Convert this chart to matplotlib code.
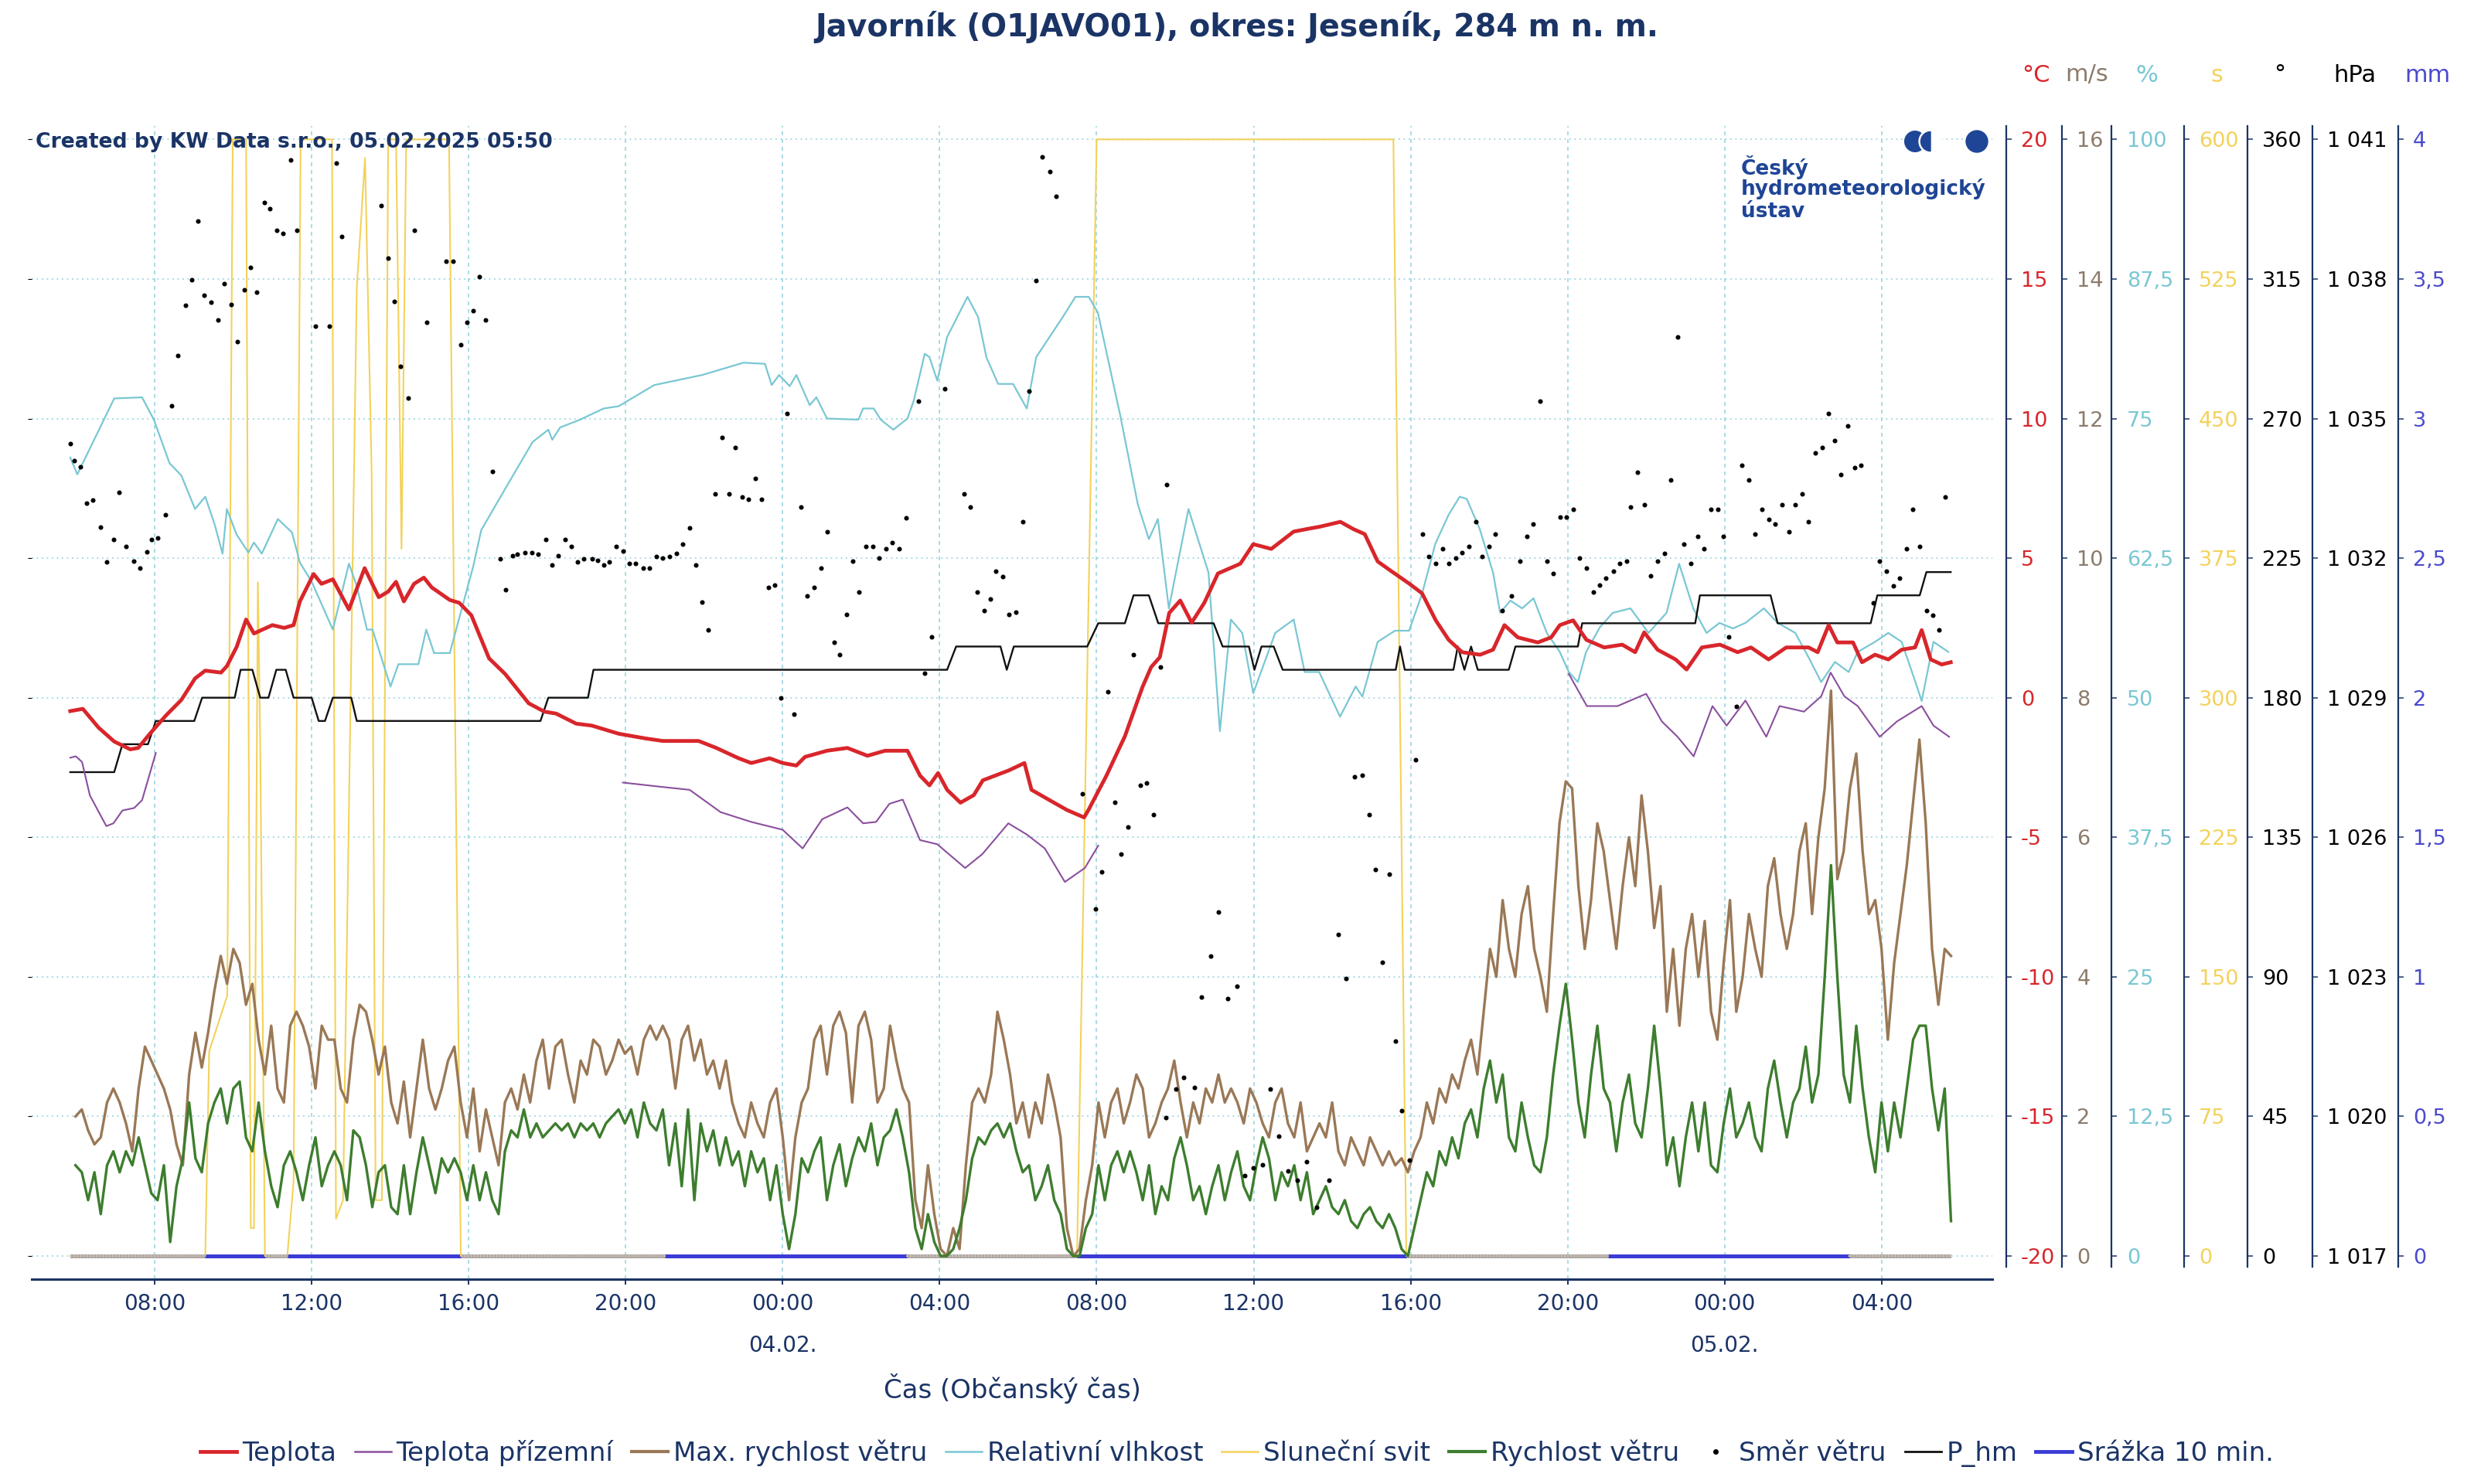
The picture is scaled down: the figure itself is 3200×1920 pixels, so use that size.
import numpy as np
import pandas as pd
import matplotlib
matplotlib.use("Agg")
import matplotlib.pyplot as plt
import matplotlib.dates as mdates
import matplotlib.transforms as mtransforms
from matplotlib.lines import Line2D
from matplotlib.patches import Circle, Wedge

# colours
NAVY = "#1b3466"
GRID = "#9dd5df"
RED = "#d8262b"
PURPLE = "#8a4f9e"
BROWN = "#9a7856"
CYAN = "#79c7d3"
YELLOW = "#f3d25b"
GREEN = "#3d7d2e"
BLUE = "#3b3bd6"
ZERO_GRAY = "#b0a8a2"

BASE = pd.Timestamp("2025-02-03 00:00")

# ---- data (time = hours since 03.02.2025 00:00) ----
temp_hours = [5.85, 6.17, 6.57, 6.97, 7.38, 7.58, 7.88, 8.28, 8.68, 9.03,
              9.29, 9.69, 9.84, 10.09, 10.33, 10.53, 11.0, 11.3, 11.54, 11.7,
              12.05, 12.25, 12.54, 12.95, 13.35, 13.71, 13.95, 14.15, 14.35, 14.61,
              14.86, 15.06, 15.52, 15.76, 16.07, 16.52, 16.93, 17.53, 17.93, 18.23,
              18.74, 19.14, 19.82, 20.51, 20.95, 21.86, 22.31, 22.88, 23.2, 23.67,
              24.0, 24.35, 24.57, 25.13, 25.65, 26.16, 26.61, 27.18, 27.5, 27.74,
              27.96, 28.19, 28.53, 28.87, 29.1, 29.77, 30.16, 30.34, 30.8, 31.24,
              31.68, 31.8, 32.25, 32.72, 33.17, 33.39, 33.61, 33.85, 34.13, 34.42,
              34.74, 35.09, 35.66, 35.99, 36.45, 37.02, 37.35, 37.7, 38.21, 38.54,
              38.83, 39.16, 39.5, 39.96, 40.29, 40.64, 40.97, 41.31, 41.77, 42.1,
              42.39, 42.73, 43.24, 43.58, 43.8, 44.14, 44.48, 44.93, 45.39, 45.72,
              45.95, 46.29, 46.75, 47.03, 47.42, 47.88, 48.33, 48.67, 49.12, 49.57,
              50.14, 50.37, 50.65, 50.87, 51.27, 51.5, 51.83, 52.17, 52.51, 52.85,
              53.02, 53.25, 53.53, 53.76]
temp_c = [-0.48, -0.4, -1.07, -1.57, -1.85, -1.8, -1.29, -0.65, -0.08, 0.69,
          0.97, 0.9, 1.13, 1.82, 2.8, 2.3, 2.6, 2.5, 2.6, 3.45,
          4.43, 4.08, 4.24, 3.16, 4.64, 3.6, 3.8, 4.15, 3.45, 4.08,
          4.3, 3.95, 3.5, 3.4, 2.95, 1.41, 0.85, -0.2, -0.5, -0.57,
          -0.93, -1.0, -1.29, -1.46, -1.55, -1.55, -1.8, -2.17, -2.34, -2.17,
          -2.34, -2.43, -2.12, -1.9, -1.8, -2.08, -1.9, -1.9, -2.79, -3.14,
          -2.7, -3.3, -3.76, -3.49, -2.96, -2.6, -2.34, -3.3, -3.67, -4.02,
          -4.29, -4.0, -2.79, -1.38, 0.39, 1.1, 1.45, 3.04, 3.48, 2.69,
          3.39, 4.45, 4.8, 5.5, 5.33, 5.95, 6.04, 6.13, 6.3, 6.04,
          5.86, 4.88, 4.54, 4.09, 3.74, 2.77, 2.07, 1.63, 1.54, 1.72,
          2.6, 2.16, 1.98, 2.16, 2.6, 2.77, 2.07, 1.8, 1.9, 1.63,
          2.34, 1.72, 1.37, 1.01, 1.8, 1.9, 1.63, 1.8, 1.37, 1.8,
          1.8, 1.63, 2.6, 1.98, 1.98, 1.27, 1.54, 1.37, 1.72, 1.8,
          2.42, 1.37, 1.19, 1.27]

# ground temperature, three separate stretches of data (NaN = gap)
ground_hours = [5.85, 5.99, 6.15, 6.35, 6.77, 6.95, 7.18, 7.48, 7.68, 8.03, 14.0,
                19.93, 20.95, 21.63, 22.42, 23.2, 24.0, 24.51, 25.01, 25.65, 26.05,
                26.38, 26.72, 27.06, 27.5, 27.94, 28.65, 29.09, 29.75, 30.22, 30.68,
                31.19, 31.7, 32.04, 38.0,
                44.03, 44.49, 45.27, 46.0, 46.4, 46.8, 47.21, 47.69, 48.05, 48.53,
                49.06, 49.4, 50.02, 50.46, 50.7, 51.05, 51.39, 51.95, 52.39, 53.02,
                53.32, 53.72]
ground_c = [-2.15, -2.1, -2.3, -3.5, -4.6, -4.5, -4.04, -3.95, -3.67, -1.98, np.nan,
            -3.04, -3.2, -3.3, -4.1, -4.45, -4.73, -5.4, -4.35, -3.93, -4.5,
            -4.45, -3.8, -3.65, -5.1, -5.25, -6.1, -5.6, -4.5, -4.9, -5.4,
            -6.6, -6.1, -5.3, np.nan,
            0.85, -0.3, -0.3, 0.14, -0.85, -1.4, -2.1, -0.3, -1.0, -0.1,
            -1.4, -0.3, -0.5, 0.05, 0.9, 0.05, -0.3, -1.4, -0.85, -0.3,
            -1.0, -1.4]

rh_hours = [5.85, 6.03, 6.97, 7.68, 7.98, 8.38, 8.68, 9.03, 9.29, 9.53,
            9.73, 9.84, 10.09, 10.39, 10.53, 10.73, 11.14, 11.5, 11.7, 12.0,
            12.54, 12.95, 13.15, 13.41, 13.55, 14.01, 14.21, 14.72, 14.92, 15.12,
            15.52, 15.82, 16.12, 16.32, 16.93, 17.63, 18.03, 18.13, 18.33, 18.84,
            19.44, 19.82, 20.73, 21.95, 23.0, 23.55, 23.72, 23.91, 24.18, 24.35,
            24.69, 24.86, 25.13, 25.93, 26.05, 26.32, 26.5, 26.82, 27.18, 27.34,
            27.62, 27.74, 27.94, 28.19, 28.71, 28.98, 29.19, 29.49, 29.87, 30.22,
            30.46, 31.12, 31.46, 31.8, 32.03, 32.6, 33.05, 33.33, 33.56, 33.84,
            34.34, 34.85, 35.14, 35.42, 35.71, 35.99, 36.55, 37.02, 37.3, 37.67,
            38.2, 38.6, 38.77, 39.16, 39.6, 39.96, 40.29, 40.63, 40.97, 41.25,
            41.43, 41.76, 42.1, 42.28, 42.54, 42.84, 43.13, 43.47, 43.8, 44.03,
            44.26, 44.47, 44.82, 45.15, 45.6, 46.06, 46.52, 46.84, 47.2, 47.54,
            47.87, 48.21, 48.53, 49.0, 49.35, 49.8, 50.14, 50.46, 50.81, 51.16,
            51.39, 51.83, 52.17, 52.51, 52.86, 53.02, 53.32, 53.7]
rh_pct = [71.5, 70.0, 76.8, 76.9, 74.9, 71, 69.9, 66.9, 68, 65.5,
          62.9, 66.9, 64.6, 63, 63.9, 62.9, 66, 64.8, 62.1, 60.4,
          56.1, 62, 60, 56.1, 56.1, 51, 53, 53, 56.1, 54,
          54, 57.9, 61.8, 65, 68.7, 72.9, 74, 73.1, 74.2, 74.9,
          75.9, 76.1, 78, 78.9, 80, 79.9, 78, 78.9, 77.9, 78.9,
          76.2, 76.9, 75, 74.9, 75.9, 75.9, 74.9, 74, 75, 76.6,
          80.8, 80.5, 78.4, 82.3, 85.9, 84.1, 80.5, 78.1, 78.1, 75.9,
          80.5, 84, 85.9, 85.9, 84.5, 75.3, 67.3, 64.2, 66, 58,
          66.9, 61.2, 47, 57, 55.8, 50.4, 55.8, 57, 52.3, 52.3,
          48.3, 51, 50.1, 55, 56, 56, 59.3, 63.8, 66.4, 68,
          67.8, 65.1, 61.2, 57.6, 58.7, 58, 58.9, 55.8, 54.1, 52.3,
          51.4, 54.1, 56.3, 57.6, 58, 55.8, 57.6, 62, 58, 55.8,
          56.7, 56.2, 56.7, 58, 56.7, 55.8, 53.6, 51.4, 53.2, 52.3,
          54.1, 55, 55.8, 55, 51.4, 49.7, 55, 54.1]

sun_hours = [5.85, 9.29, 9.39, 9.85, 9.99, 10.33, 10.45, 10.53, 10.63, 10.69,
             10.81, 11.38, 11.54, 11.72, 12.52, 12.62, 12.8, 13.15, 13.36, 13.53,
             13.63, 13.79, 13.95, 14.15, 14.29, 14.41, 15.5, 15.8, 21.0, 24.0,
             27.17, 31.5, 32.0, 39.56, 39.89, 45.03, 48.0, 51.17, 53.76]
sun_s = [0, 0, 110, 140, 600, 600, 15, 15, 362, 275,
         0, 0, 40, 600, 600, 20, 30, 520, 590, 420,
         30, 30, 600, 600, 380, 600, 600, 0, 0, np.nan,
         0, 0, 600, 600, 0, 0, np.nan, 0, 0]

pressure_hours = [5.85, 6.97, 7.18, 7.83, 8.03, 9.01, 9.21, 10.04, 10.19, 10.49,
                  10.69, 10.9, 11.1, 11.34, 11.54, 12.0, 12.18, 12.34, 12.54, 13.01,
                  13.15, 17.83, 18.03, 19.04, 19.18, 28.19, 28.42, 29.55, 29.71, 29.89,
                  31.76, 32.04, 32.72, 32.94, 33.33, 33.57, 34.98, 35.21, 35.88, 36.02,
                  36.2, 36.51, 36.74, 39.62, 39.73, 39.85, 41.09, 41.2, 41.37, 41.54,
                  41.71, 42.5, 42.67, 44.26, 44.37, 47.25, 47.37, 49.17, 49.35, 51.72,
                  51.89, 52.97, 53.14, 53.76]
pressure_hpa = [1027.4, 1027.4, 1028.0, 1028.0, 1028.5, 1028.5, 1029.0, 1029.0, 1029.6, 1029.6,
                1029.0, 1029.0, 1029.6, 1029.6, 1029.0, 1029.0, 1028.5, 1028.5, 1029.0, 1029.0,
                1028.5, 1028.5, 1029.0, 1029.0, 1029.6, 1029.6, 1030.1, 1030.1, 1029.6, 1030.1,
                1030.1, 1030.6, 1030.6, 1031.2, 1031.2, 1030.6, 1030.6, 1030.1, 1030.1, 1029.6,
                1030.1, 1030.1, 1029.6, 1029.6, 1030.1, 1029.6, 1029.6, 1030.1, 1029.6, 1030.1,
                1029.6, 1029.6, 1030.1, 1030.1, 1030.6, 1030.6, 1031.2, 1031.2, 1030.6, 1030.6,
                1031.2, 1031.2, 1031.7, 1031.7]

# wind: evenly spaced samples between these two times
wind_start = "2025-02-03 05:59"
wind_end = "2025-02-05 05:46"
wind_gust = [2.0, 2.1, 1.8, 1.6, 1.7, 2.2, 2.4, 2.2, 1.9, 1.5,
             2.4, 3.0, 2.8, 2.6, 2.4, 2.1, 1.6, 1.3, 2.6, 3.2,
             2.7, 3.2, 3.8, 4.3, 3.9, 4.4, 4.2, 3.6, 3.9, 3.1,
             2.6, 3.3, 2.4, 2.2, 3.3, 3.5, 3.3, 3.0, 2.4, 3.3,
             3.1, 3.1, 2.4, 2.2, 3.1, 3.6, 3.5, 3.1, 2.6, 3.0,
             2.2, 1.9, 2.5, 1.7, 2.4, 3.1, 2.4, 2.1, 2.4, 2.8,
             3.0, 2.2, 1.7, 2.4, 1.5, 2.1, 1.7, 1.3, 2.2, 2.4,
             2.1, 2.6, 2.2, 2.8, 3.1, 2.4, 3.0, 3.1, 2.6, 2.2,
             2.8, 2.6, 3.1, 3.0, 2.6, 2.8, 3.1, 2.9, 3.0, 2.6,
             3.1, 3.3, 3.1, 3.3, 3.1, 2.4, 3.1, 3.3, 2.8, 3.1,
             2.6, 2.8, 2.4, 2.8, 2.2, 1.9, 1.7, 2.2, 1.9, 1.7,
             2.2, 2.4, 1.7, 0.8, 1.7, 2.2, 2.4, 3.1, 3.3, 2.6,
             3.3, 3.5, 3.2, 2.2, 3.3, 3.5, 3.1, 2.2, 2.4, 3.3,
             2.8, 2.4, 2.2, 0.8, 0.4, 1.3, 0.6, 0.1, 0.0, 0.4,
             0.1, 1.3, 2.2, 2.4, 2.2, 2.6, 3.5, 3.1, 2.6, 1.9,
             2.2, 1.7, 2.2, 1.9, 2.6, 2.2, 1.7, 0.4, 0.0, 0.1,
             0.8, 1.3, 2.2, 1.7, 2.2, 2.4, 1.9, 2.2, 2.6, 2.4,
             1.7, 1.9, 2.2, 2.4, 2.8, 2.2, 1.7, 2.2, 1.9, 2.4,
             2.2, 2.6, 2.2, 2.4, 2.2, 1.9, 2.4, 2.2, 1.9, 1.7,
             2.2, 2.4, 1.9, 1.7, 2.2, 1.5, 1.7, 1.9, 1.7, 2.2,
             1.5, 1.3, 1.7, 1.5, 1.3, 1.7, 1.5, 1.3, 1.5, 1.3,
             1.4, 1.2, 1.5, 1.7, 2.2, 1.9, 2.4, 2.2, 2.6, 2.4,
             2.8, 3.1, 2.6, 3.5, 4.4, 4.0, 5.1, 4.4, 4.0, 4.9,
             5.3, 4.4, 4.0, 3.5, 4.9, 6.2, 6.8, 6.7, 5.3, 4.4,
             5.1, 6.2, 5.8, 5.1, 4.4, 5.3, 6.0, 5.3, 6.6, 5.8,
             4.7, 5.3, 3.5, 4.4, 3.3, 4.4, 4.9, 4.0, 4.8, 3.5,
             3.1, 4.2, 5.1, 3.5, 4.0, 4.9, 4.4, 4.0, 5.3, 5.7,
             4.9, 4.4, 4.9, 5.8, 6.2, 4.9, 6.0, 6.7, 8.1, 5.4,
             5.8, 6.7, 7.2, 5.8, 4.9, 5.1, 4.4, 3.1, 4.2, 4.9,
             5.6, 6.5, 7.4, 6.2, 4.4, 3.6, 4.4, 4.3]
wind_speed = [1.3, 1.2, 0.8, 1.2, 0.6, 1.3, 1.5, 1.2, 1.5, 1.3,
              1.7, 1.3, 0.9, 0.8, 1.3, 0.2, 1.0, 1.4, 2.2, 1.4,
              1.2, 1.9, 2.2, 2.4, 1.9, 2.4, 2.5, 1.7, 1.5, 2.2,
              1.5, 1.0, 0.7, 1.3, 1.5, 1.2, 0.8, 1.3, 1.7, 1.0,
              1.3, 1.5, 1.3, 0.8, 1.8, 1.7, 1.3, 0.7, 1.2, 1.3,
              0.7, 0.6, 1.3, 0.6, 1.2, 1.7, 1.3, 0.9, 1.4, 1.2,
              1.4, 1.2, 0.8, 1.3, 0.8, 1.2, 0.8, 0.6, 1.5, 1.8,
              1.7, 2.1, 1.7, 1.9, 1.7, 1.8, 1.9, 1.8, 1.9, 1.7,
              1.9, 1.8, 1.9, 1.7, 1.9, 2.0, 2.1, 1.9, 2.1, 1.7,
              2.2, 1.9, 1.8, 2.1, 1.3, 1.9, 1.0, 2.1, 0.8, 1.9,
              1.5, 1.8, 1.3, 1.7, 1.3, 1.5, 1.0, 1.5, 1.2, 1.4,
              0.8, 1.3, 0.6, 0.1, 0.6, 1.4, 1.2, 1.5, 1.7, 0.8,
              1.3, 1.6, 1.0, 1.4, 1.7, 1.5, 1.9, 1.3, 1.7, 1.8,
              2.1, 1.7, 1.2, 0.4, 0.1, 0.6, 0.2, 0.0, 0.0, 0.1,
              0.4, 0.8, 1.4, 1.7, 1.6, 1.8, 1.9, 1.7, 1.9, 1.5,
              1.2, 1.3, 0.8, 1.0, 1.3, 0.8, 0.6, 0.1, 0.0, 0.0,
              0.4, 0.6, 1.3, 0.8, 1.3, 1.5, 1.2, 1.5, 1.2, 0.8,
              1.3, 0.6, 1.0, 0.8, 1.4, 1.7, 1.3, 0.8, 1.0, 0.6,
              1.0, 1.3, 0.8, 1.2, 1.5, 1.0, 0.8, 1.3, 1.7, 1.4,
              0.8, 1.2, 1.0, 1.3, 0.8, 1.2, 0.6, 0.8, 1.0, 0.7,
              0.6, 0.8, 0.5, 0.4, 0.6, 0.7, 0.5, 0.4, 0.6, 0.4,
              0.1, 0.0, 0.4, 0.8, 1.2, 1.0, 1.5, 1.3, 1.7, 1.4,
              1.9, 2.1, 1.7, 2.4, 2.8, 2.2, 2.6, 1.7, 1.5, 2.2,
              1.7, 1.3, 1.2, 1.7, 2.6, 3.3, 3.9, 3.1, 2.2, 1.7,
              2.6, 3.3, 2.4, 2.2, 1.5, 2.2, 2.6, 1.9, 1.7, 2.4,
              3.3, 2.4, 1.3, 1.7, 1.0, 1.7, 2.2, 1.5, 2.2, 1.3,
              1.2, 1.9, 2.4, 1.7, 1.9, 2.2, 1.7, 1.5, 2.4, 2.8,
              2.2, 1.7, 2.2, 2.4, 3.0, 2.2, 2.6, 4.0, 5.6, 4.0,
              2.6, 2.2, 3.3, 2.4, 1.7, 1.2, 2.2, 1.5, 2.2, 1.7,
              2.4, 3.1, 3.3, 3.3, 2.4, 1.8, 2.4, 0.5]

dir_hours = [5.85, 5.95, 6.11, 6.27, 6.43, 6.62, 6.77, 6.95, 7.1, 7.28,
             7.46, 7.63, 7.8, 7.92, 8.08, 8.28, 8.44, 8.6, 8.79, 8.94,
             9.11, 9.27, 9.44, 9.62, 9.78, 9.95, 10.11, 10.28, 10.44, 10.6,
             10.79, 10.94, 11.11, 11.27, 11.46, 11.62, 12.1, 12.45, 12.62, 12.77,
             13.78, 13.94, 14.11, 14.27, 14.46, 14.61, 14.94, 15.42, 15.6, 15.8,
             15.95, 16.11, 16.28, 16.43, 16.6, 16.81, 16.95, 17.11, 17.23, 17.43,
             17.61, 17.77, 17.96, 18.13, 18.28, 18.45, 18.62, 18.78, 18.94, 19.14,
             19.29, 19.44, 19.58, 19.76, 19.93, 20.1, 20.26, 20.44, 20.61, 20.79,
             20.95, 21.12, 21.29, 21.46, 21.63, 21.79, 21.95, 22.11, 22.29, 22.46,
             22.63, 22.79, 22.96, 23.12, 23.3, 23.46, 23.63, 23.8, 23.96, 24.12,
             24.29, 24.46, 24.63, 24.8, 24.97, 25.13, 25.31, 25.45, 25.62, 25.79,
             25.95, 26.12, 26.3, 26.46, 26.63, 26.8, 26.97, 27.14, 27.46, 27.62,
             27.8, 28.13, 28.62, 28.79, 28.96, 29.13, 29.3, 29.43, 29.6, 29.77,
             29.95, 30.12, 30.28, 30.45, 30.62, 30.8, 30.96, 31.64, 31.98, 32.12,
             32.29, 32.46, 32.62, 32.8, 32.94, 33.11, 33.28, 33.45, 33.62, 33.77,
             33.79, 34.02, 34.22, 34.5, 34.66, 34.9, 35.1, 35.34, 35.58, 35.78,
             35.99, 36.23, 36.43, 36.63, 36.87, 37.11, 37.35, 37.6, 37.92, 38.16,
             38.36, 38.56, 38.77, 38.94, 39.11, 39.28, 39.45, 39.61, 39.77, 39.97,
             40.13, 40.3, 40.47, 40.64, 40.81, 40.98, 41.15, 41.31, 41.49, 41.66,
             41.82, 41.99, 42.16, 42.34, 42.56, 42.79, 42.96, 43.12, 43.3, 43.47,
             43.64, 43.8, 43.97, 44.14, 44.31, 44.48, 44.65, 44.82, 44.98, 45.16,
             45.33, 45.5, 45.61, 45.78, 45.95, 46.12, 46.29, 46.46, 46.63, 46.8,
             46.97, 47.14, 47.31, 47.48, 47.65, 47.82, 47.97, 48.1, 48.31, 48.44,
             48.61, 48.78, 48.95, 49.12, 49.29, 49.46, 49.63, 49.8, 49.97, 50.14,
             50.31, 50.48, 50.65, 50.8, 50.96, 51.13, 51.31, 51.48, 51.78, 51.95,
             52.12, 52.29, 52.46, 52.63, 52.79, 52.97, 53.14, 53.31, 53.47, 53.62]
dir_deg = [261.9, 256.5, 254.5, 242.8, 243.6, 234.9, 223.7, 230.9, 246.1, 228.8,
           224, 221.7, 227, 230.9, 231.6, 239, 274.1, 290.4, 306.6, 314.7,
           333.6, 309.8, 307.6, 301.8, 313.6, 306.8, 294.9, 311.5, 318.6, 310.7,
           339.7, 337.6, 330.8, 329.6, 353.4, 330.7, 299.7, 299.7, 352.4, 328.6,
           338.7, 321.7, 307.7, 286.8, 276.6, 330.6, 301, 320.7, 320.7, 293.7,
           301, 304.7, 315.7, 301.8, 253, 224.8, 214.8, 225.8, 226.3, 226.8,
           226.8, 226.3, 230.9, 222.7, 225.8, 230.9, 228.8, 223.7, 224.8, 224.8,
           224.4, 222.7, 223.7, 228.8, 227.2, 223.2, 223.2, 221.7, 221.7, 225.6,
           224.9, 225.6, 226.4, 229.6, 234.7, 222.9, 210.9, 201.8, 245.8, 263.8,
           245.8, 260.6, 244.7, 243.9, 250.7, 243.9, 215.6, 216.4, 179.9, 271.7,
           174.8, 241.5, 212.9, 215.6, 221.7, 233.6, 197.8, 193.8, 206.9, 224,
           214.1, 228.8, 228.8, 224.9, 228, 229.9, 228, 237.9, 275.7, 187.8,
           199.7, 279.7, 245.8, 241.5, 214.1, 208.2, 211.8, 220.9, 219, 206.9,
           207.7, 236.8, 278.9, 314.6, 354.4, 349.6, 341.7, 148.9, 112, 123.9,
           181.9, 146.2, 129.5, 138.3, 193.8, 151.7, 152.6, 142.2, 189.9, 44.7,
           248.7, 53.9, 57.5, 54.4, 83.4, 96.6, 110.9, 82.9, 87, 25.9,
           28.5, 29.5, 53.9, 38.6, 27.5, 24.4, 30.5, 15.8, 24.4, 103.7,
           89.5, 154.6, 154.9, 142.2, 124.7, 94.6, 123.2, 69.2, 46.8, 31,
           160, 232.8, 225.6, 223.2, 228, 223.2, 224.9, 226.8, 228.8, 236.8,
           225.6, 228.8, 232.8, 208.2, 212.9, 224, 232, 236, 275.7, 224,
           220.1, 238.3, 238.3, 240.7, 224.9, 221.7, 214.1, 216.2, 218.5, 220.9,
           223.2, 224, 241.5, 252.7, 242.3, 219.3, 224, 226.4, 250.3, 296.4,
           229.6, 223.2, 232, 228, 240.7, 240.7, 232, 199.7, 177.2, 255,
           250.3, 232.8, 240.7, 237.6, 236, 242.3, 233.6, 242.3, 245.8, 236.8,
           259, 260.6, 271.7, 263, 251.9, 267.7, 254.3, 255, 210.5, 224,
           220.9, 216.1, 218.5, 228, 240.7, 228.8, 208.2, 206.6, 201.8, 244.7]

precip_hours = [5.85, 53.76]
precip_mm = [0.0, 0.0]

# axis units
celsius_ticks = list(range(-20, 21, 5))
ms_ticks = list(range(0, 17, 2))
pct_ticks = [0, 12.5, 25, 37.5, 50, 62.5, 75, 87.5, 100]
sec_ticks = list(range(0, 601, 75))
deg_ticks = list(range(0, 361, 45))
hpa_ticks = list(range(1017, 1042, 3))
mm_ticks = [0, 0.5, 1, 1.5, 2, 2.5, 3, 3.5, 4]


def to_time(hours):
    return BASE + pd.to_timedelta(np.asarray(hours, dtype=float), unit="h")


def dec(v):
    return ("%g" % v).replace(".", ",")


W, H = 3200, 1920
fig = plt.figure(figsize=(W / 100, H / 100), dpi=100)

# main frame in pixels of the reference
X0, X1, YTOP, YBOT = 41, 2577, 163, 1655
ax = fig.add_axes([X0 / W, 1 - YBOT / H, (X1 - X0) / W, (YBOT - YTOP) / H])
Y_BOTTOM, Y_TOP, SPINE_BOTTOM = -20.83, 20.48, -20.39
ax.set_ylim(Y_BOTTOM, Y_TOP)
ax.set_yticks(celsius_ticks)
ax.tick_params(axis="y", left=False, labelleft=False, right=False, labelright=False)
for s in ("top", "left", "right"):
    ax.spines[s].set_visible(False)
ax.spines["bottom"].set_color(NAVY)
ax.spines["bottom"].set_linewidth(2.2)
ax.grid(axis="y", color=GRID, linestyle=(0, (1, 2.6)), linewidth=1.3)
ax.grid(axis="x", color=GRID, linestyle=(0, (3, 3)), linewidth=1.2)
ax.xaxis.set_major_locator(mdates.HourLocator(byhour=range(0, 24, 4)))
ax.xaxis.set_major_formatter(mdates.DateFormatter("%H:%M"))
ax.tick_params(axis="x", direction="out", length=5, width=1.4, color=NAVY,
               labelsize=20, labelcolor=NAVY, pad=8)


def unit_axis(lo, hi, pos, ticks, labels, color):
    t = ax.twinx()
    span = hi - lo

    def f(v):
        return lo + (v + 20.0) / 40.0 * span

    t.set_ylim(f(Y_BOTTOM), f(Y_TOP))
    for name in ("top", "bottom", "left"):
        t.spines[name].set_visible(False)
    sp = t.spines["right"]
    sp.set_position(("axes", pos))
    sp.set_color(NAVY)
    sp.set_linewidth(1.6)
    sp.set_bounds(f(SPINE_BOTTOM), f(Y_TOP))
    t.set_yticks(ticks)
    t.set_yticklabels(labels)
    t.tick_params(axis="y", direction="out", length=5, width=1.1, color=NAVY,
                  pad=9, labelsize=19.5, labelcolor=color)
    t.patch.set_visible(False)
    return t


frame_w = X1 - X0
ax_mm = unit_axis(0, 4, (3101.7 - X0) / frame_w, mm_ticks, [dec(v) for v in mm_ticks], "#4a4acb")
ax_s = unit_axis(0, 600, (2824.7 - X0) / frame_w, sec_ticks, [str(v) for v in sec_ticks], YELLOW)
ax_rh = unit_axis(0, 100, (2731.4 - X0) / frame_w, pct_ticks, [dec(v) for v in pct_ticks], CYAN)
ax_p = unit_axis(1017, 1041, (2990.9 - X0) / frame_w, hpa_ticks,
                 ["1 %03d" % (v - 1000) for v in hpa_ticks], "black")
ax_ms = unit_axis(0, 16, (2666.8 - X0) / frame_w, ms_ticks, [str(v) for v in ms_ticks], "#8c7b6b")
ax_deg = unit_axis(0, 360, (2906.7 - X0) / frame_w, deg_ticks, [str(v) for v in deg_ticks], "black")
ax_t = unit_axis(-20, 20, (2594.6 - X0) / frame_w, celsius_ticks, [str(v) for v in celsius_ticks], RED)

# series
ax_mm.plot(to_time(precip_hours), precip_mm, color=BLUE, lw=3.6, solid_capstyle="butt")
sun = np.array(sun_s, dtype=float)
sun_zero = np.where(sun == 0, 0.0, np.nan)
ax_s.plot(to_time(sun_hours), sun, color=YELLOW, lw=1.5)
ax_s.plot(to_time(sun_hours), sun_zero, color=ZERO_GRAY, lw=3.6, solid_capstyle="butt")
ax_s.plot(to_time(sun_hours), sun_zero, color="#d9d2cb", lw=1.2, linestyle=(0, (1, 1.5)))
ax_rh.plot(to_time(rh_hours), rh_pct, color=CYAN, lw=1.6)
ax_p.plot(to_time(pressure_hours), pressure_hpa, color="#111111", lw=1.7)
wind_time = pd.date_range(wind_start, wind_end, periods=len(wind_speed))
ax_ms.plot(wind_time, wind_gust, color=BROWN, lw=2.4)
ax_ms.plot(wind_time, wind_speed, color=GREEN, lw=2.4)
ax_deg.scatter(to_time(dir_hours), dir_deg, s=19, color="black", linewidths=0)
ax_t.plot(to_time(ground_hours), ground_c, color=PURPLE, lw=1.5)
ax_t.plot(to_time(temp_hours), temp_c, color=RED, lw=3.5)

ax.set_xlim(to_time([4.868])[0], to_time([54.82])[0])

# date labels under midnight
blend = mtransforms.blended_transform_factory(ax.transData, fig.transFigure)
for day in ("2025-02-04", "2025-02-05"):
    ts = pd.Timestamp(day)
    ax.text(mdates.date2num(ts.to_pydatetime()), 1 - 1741 / H, ts.strftime("%d.%m."),
            transform=blend, ha="center", va="center", fontsize=20, color=NAVY)

# texts
fig.text(0.5, 1 - 35 / H, "Javorník (O1JAVO01), okres: Jeseník, 284 m n. m.",
         ha="center", va="center", fontsize=28.5, fontweight="bold", color=NAVY)
fig.text(46 / W, 1 - 184 / H, "Created by KW Data s.r.o., 05.02.2025 05:50",
         ha="left", va="center", fontsize=19.2, fontweight="bold", color=NAVY)
fig.text(1309 / W, 1 - 1796 / H, "Čas (Občanský čas)", ha="center", va="center",
         fontsize=24.5, color=NAVY)

units = [("°C", 2633, RED), ("m/s", 2699, "#8c7b6b"), ("%", 2777, CYAN), ("s", 2867, YELLOW),
         ("°", 2949, "black"), ("hPa", 3046, "black"), ("mm", 3140, "#4a4acb")]
for txt, xp, col in units:
    fig.text(xp / W, 1 - 97 / H, txt, ha="center", va="center", fontsize=22, color=col)

# CHMI logo
LOGO = "#1f4596"
for i, line in enumerate(["Český", "hydrometeorologický", "ústav"]):
    fig.text(2252 / W, 1 - (216 + 29 * i) / H, line, ha="left", va="center",
             fontsize=19, fontweight="bold", color=LOGO)
lax = fig.add_axes([2440 / W, 1 - 215 / H, 160 / W, 55 / H])
lax.set_xlim(2440, 2600)
lax.set_ylim(215, 160)
lax.axis("off")
lax.add_patch(Circle((2477, 183), 13.3, color=LOGO))
lax.add_patch(Circle((2497, 183), 15, color="white"))
lax.add_patch(Wedge((2497, 183), 12.5, 90, 270, color=LOGO))
lax.add_patch(Circle((2557, 183), 14, color=LOGO))

# legend
handles = [
    Line2D([], [], color=RED, lw=3.5),
    Line2D([], [], color=PURPLE, lw=1.8),
    Line2D([], [], color=BROWN, lw=3),
    Line2D([], [], color=CYAN, lw=1.8),
    Line2D([], [], color=YELLOW, lw=1.8),
    Line2D([], [], color=GREEN, lw=3),
    Line2D([], [], ls="none", marker="o", ms=4, color="black"),
    Line2D([], [], color="#111111", lw=2),
    Line2D([], [], color=BLUE, lw=3.5),
]
labels = ["Teplota", "Teplota přízemní", "Max. rychlost větru", "Relativní vlhkost",
          "Sluneční svit", "Rychlost větru", "Směr větru", "P_hm", "Srážka 10 min."]
fig.legend(handles, labels, loc="center", bbox_to_anchor=(0.5, 1 - 1880 / H), ncol=9,
           frameon=False, fontsize=24.5, handlelength=1.38, handletextpad=0.2,
           columnspacing=0.7, labelcolor=NAVY, numpoints=1)

fig.savefig("out.png", dpi=100)
